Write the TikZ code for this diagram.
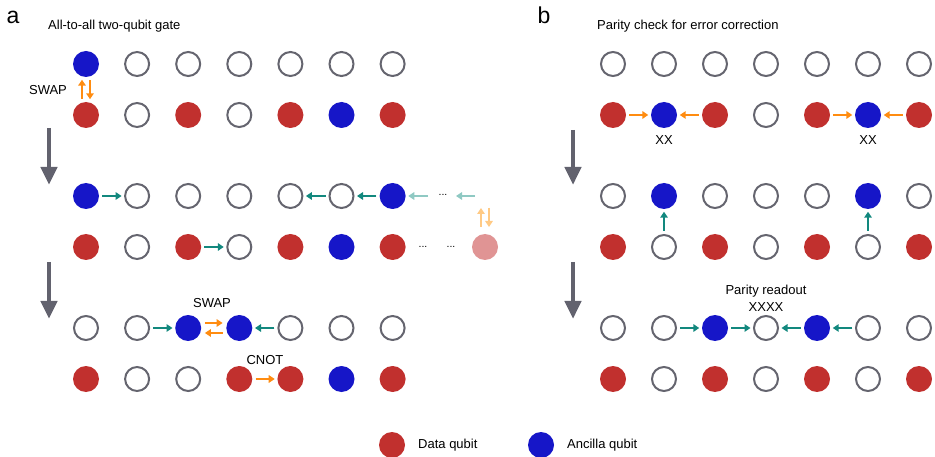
\documentclass[tikz,border=0pt]{standalone}
\usepackage{fontspec}
\setmainfont{Liberation Sans}
\usetikzlibrary{arrows.meta}
\definecolor{dred}{HTML}{C1302E}
\definecolor{dblue}{HTML}{1616C8}
\definecolor{dgrey}{HTML}{65656F}
\definecolor{dteal}{HTML}{12887E}
\definecolor{lteal}{HTML}{8FC9C3}
\definecolor{dorange}{HTML}{FF8C10}
\definecolor{lorange}{HTML}{FFCA85}
\definecolor{pinkq}{HTML}{E09494}
\definecolor{bigarr}{HTML}{62626E}
\begin{document}
\begin{tikzpicture}[x=1pt,y=-1pt,
  qA/.style={circle,fill=dblue,minimum size=26pt,inner sep=0pt},
  qD/.style={circle,fill=dred,minimum size=26pt,inner sep=0pt},
  qE/.style={circle,draw=dgrey,line width=2pt,minimum size=24pt,inner sep=0pt},
  qP/.style={circle,fill=pinkq,minimum size=26pt,inner sep=0pt},
  sarr/.style={line width=1.9pt,-{Triangle[length=6pt,width=7.5pt]},shorten >=2.5pt,shorten <=3pt},
  tealarr/.style={sarr,draw=dteal,fill=dteal},
  ltealarr/.style={sarr,draw=lteal,fill=lteal},
  orarr/.style={sarr,draw=dorange,fill=dorange},
  lorarr/.style={sarr,draw=lorange,fill=lorange},
  bigarrow/.style={line width=4.5pt,draw=bigarr,-{Triangle[length=18pt,width=16pt]}},
  lbl/.style={inner sep=0pt,font=\fontsize{13}{15}\selectfont},
  dotlbl/.style={inner sep=0pt,font=\fontsize{10.5}{12}\selectfont},
  panel/.style={inner sep=0pt,font=\fontsize{23}{26}\selectfont}
]
\useasboundingbox (0,0) rectangle (935,457);

% ---------- panel a ----------
\node[panel,anchor=base] (pa) at (13,24) {a};
\node[lbl,anchor=west] (ta) at (48,26) {All-to-all two-qubit gate};

\foreach \t [count=\c] in {A,E,E,E,E,E,E} \node[q\t] (L1-\c) at ({86+51.1*(\c-1)},64) {};
\foreach \t [count=\c] in {D,E,D,E,D,A,D} \node[q\t] (L2-\c) at ({86+51.1*(\c-1)},115) {};
\foreach \t [count=\c] in {A,E,E,E,E,E,A} \node[q\t] (L3-\c) at ({86+51.1*(\c-1)},196) {};
\foreach \t [count=\c] in {D,E,D,E,D,A,D} \node[q\t] (L4-\c) at ({86+51.1*(\c-1)},247) {};
\foreach \t [count=\c] in {E,E,A,A,E,E,E} \node[q\t] (L5-\c) at ({86+51.1*(\c-1)},328) {};
\foreach \t [count=\c] in {D,E,E,D,D,A,D} \node[q\t] (L6-\c) at ({86+51.1*(\c-1)},379) {};
\node[qP] (pink) at (485,247) {};

% SWAP top
\node[lbl] (swap1) at (48,90) {SWAP};
\draw[orarr] ([xshift=-4pt]L2-1.north) -- ([xshift=-4pt]L1-1.south);
\draw[orarr] ([xshift=4pt]L1-1.south) -- ([xshift=4pt]L2-1.north);

% middle rows
\draw[tealarr] (L3-1) -- (L3-2);
\draw[tealarr] (L3-6) -- (L3-5);
\draw[tealarr] (L3-7) -- (L3-6);
\coordinate (g1s) at (475,196);
\coordinate (g1e) at (456,196);
\coordinate (g2s) at (428,196);
\draw[ltealarr,shorten <=0pt,shorten >=0pt] (g1s) -- (g1e);
\draw[ltealarr,shorten <=0pt] (g2s) -- (L3-7);
\node[dotlbl,anchor=base] (dots1) at (443,196) {...};
\node[dotlbl,anchor=base] (dots2) at (423,248) {...};
\node[dotlbl,anchor=base] (dots3) at (451,248) {...};
\draw[tealarr] (L4-3) -- (L4-4);
\coordinate (o1t) at (481,208);
\coordinate (o1b) at (481,227);
\coordinate (o2t) at (489,208);
\coordinate (o2b) at (489,227);
\draw[lorarr,shorten <=0pt,shorten >=0pt] (o1b) -- (o1t);
\draw[lorarr,shorten <=0pt,shorten >=0pt] (o2t) -- (o2b);

% bottom rows
\draw[tealarr] (L5-2) -- (L5-3);
\draw[tealarr] (L5-5) -- (L5-4);
\draw[orarr,shorten >=3.5pt,shorten <=3.5pt] ([yshift=5pt]L5-3.east) -- ([yshift=5pt]L5-4.west);
\draw[orarr,shorten >=3.5pt,shorten <=3.5pt] ([yshift=-5pt]L5-4.west) -- ([yshift=-5pt]L5-3.east);
\node[lbl] (swap2) at (212,303) {SWAP};
\draw[orarr] (L6-4) -- (L6-5);
\node[lbl] (cnot) at (265,360) {CNOT};

\draw[bigarrow] (49,128) -- (49,185);
\draw[bigarrow] (49,262) -- (49,319);

% ---------- panel b ----------
\node[panel,anchor=base] (pb) at (544,24) {b};
\node[lbl,anchor=west] (tb) at (597,26) {Parity check for error correction};

\foreach \t [count=\c] in {E,E,E,E,E,E,E} \node[q\t] (R1-\c) at ({613+51*(\c-1)},64) {};
\foreach \t [count=\c] in {D,A,D,E,D,A,D} \node[q\t] (R2-\c) at ({613+51*(\c-1)},115) {};
\foreach \t [count=\c] in {E,A,E,E,E,A,E} \node[q\t] (R3-\c) at ({613+51*(\c-1)},196) {};
\foreach \t [count=\c] in {D,E,D,E,D,E,D} \node[q\t] (R4-\c) at ({613+51*(\c-1)},247) {};
\foreach \t [count=\c] in {E,E,A,E,A,E,E} \node[q\t] (R5-\c) at ({613+51*(\c-1)},328) {};
\foreach \t [count=\c] in {D,E,D,E,D,E,D} \node[q\t] (R6-\c) at ({613+51*(\c-1)},379) {};

\draw[orarr] (R2-1) -- (R2-2);
\draw[orarr] (R2-3) -- (R2-2);
\draw[orarr] (R2-5) -- (R2-6);
\draw[orarr] (R2-7) -- (R2-6);
\node[lbl] (xx1) at (664,140) {XX};
\node[lbl] (xx2) at (868,140) {XX};

\draw[tealarr] (R4-2) -- (R3-2);
\draw[tealarr] (R4-6) -- (R3-6);

\draw[tealarr] (R5-2) -- (R5-3);
\draw[tealarr] (R5-3) -- (R5-4);
\draw[tealarr] (R5-5) -- (R5-4);
\draw[tealarr] (R5-6) -- (R5-5);
\node[lbl] (pr) at (766,291) {Parity readout};
\node[lbl] (xxxx) at (766,307) {XXXX};

\draw[bigarrow] (573,130) -- (573,185);
\draw[bigarrow] (573,262) -- (573,319);

% ---------- legend ----------
\node[qD] (legD) at (392,445) {};
\node[lbl,anchor=west] (legDt) at (418,445) {Data qubit};
\node[qA] (legA) at (541,445) {};
\node[lbl,anchor=west] (legAt) at (567,445) {Ancilla qubit};
\end{tikzpicture}
\end{document}
